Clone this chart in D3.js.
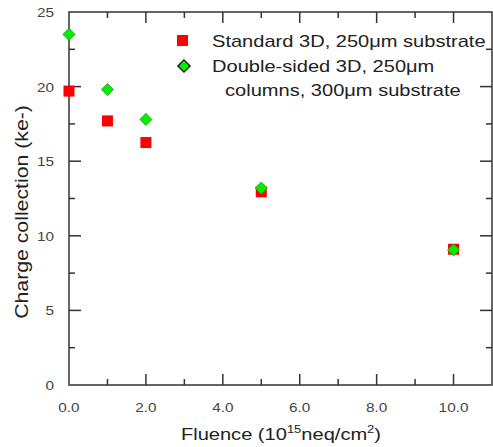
<!DOCTYPE html>
<html>
<head>
<meta charset="utf-8">
<script src="https://cdn.jsdelivr.net/npm/d3@7"></script>
<style>
body { margin: 0; background: #fff; }
text { font-family: "Liberation Sans", Arial, sans-serif; }
</style>
</head>
<body>
<script>
var fluence = [0, 1, 2, 5, 10];
var standard3D = [19.7, 17.7, 16.25, 12.95, 9.1];
var doubleSided = [23.5, 19.8, 17.8, 13.2, 9.05];
var xTicks = [0, 2, 4, 6, 8, 10];
var yTicks = [0, 5, 10, 15, 20, 25];

var W = 493, H = 447;
var pL = 69, pR = 492, pT = 12, pB = 385;
var stretch = 1.18; // the source text is a bit wider than Liberation Sans

var svg = d3.select("body")
    .append("svg")
    .attr("width", W)
    .attr("height", H)
    .style("display", "block");

var x = d3.scaleLinear().domain([0, 11]).range([pL, pR]);
var y = d3.scaleLinear().domain([0, 25]).range([pB, pT]);

var axisColor = "#333";

function widen(sel) {
    sel.each(function () {
        var w = this.getComputedTextLength();
        d3.select(this).attr("textLength", w * stretch)
            .attr("lengthAdjust", "spacingAndGlyphs");
    });
}

// frame
svg.append("rect")
    .attr("x", pL).attr("y", pT)
    .attr("width", pR - pL).attr("height", pB - pT)
    .attr("fill", "none")
    .attr("stroke", axisColor)
    .attr("stroke-width", 1.5);

// ticks (inward)
var xMinor = d3.range(1, 11, 2);
var yMinor = d3.range(2.5, 25, 5);

function tickLines(vals, len, horiz) {
    vals.forEach(function (v) {
        if (horiz) {
            svg.append("line").attr("x1", x(v)).attr("x2", x(v))
                .attr("y1", pB).attr("y2", pB - len)
                .attr("stroke", axisColor).attr("stroke-width", 1.5);
            svg.append("line").attr("x1", x(v)).attr("x2", x(v))
                .attr("y1", pT).attr("y2", pT + len)
                .attr("stroke", axisColor).attr("stroke-width", 1.5);
        } else {
            svg.append("line").attr("y1", y(v)).attr("y2", y(v))
                .attr("x1", pL).attr("x2", pL + len)
                .attr("stroke", axisColor).attr("stroke-width", 1.5);
            svg.append("line").attr("y1", y(v)).attr("y2", y(v))
                .attr("x1", pR).attr("x2", pR - len)
                .attr("stroke", axisColor).attr("stroke-width", 1.5);
        }
    });
}
tickLines(xTicks.filter(function (d) { return d > 0; }), 11, true);
tickLines(xMinor, 6, true);
tickLines(yTicks.filter(function (d) { return d > 0 && d < 25; }), 12, false);
tickLines(yMinor, 6, false);

// tick labels
svg.selectAll(".xl").data(xTicks).enter().append("text")
    .attr("x", function (d) { return x(d); })
    .attr("y", 412)
    .attr("text-anchor", "middle")
    .attr("font-size", "13px")
    .attr("fill", "#444")
    .text(function (d) { return d.toFixed(1); })
    .call(widen);

svg.selectAll(".yl").data(yTicks).enter().append("text")
    .attr("x", 54)
    .attr("y", function (d) { return y(d) + 5; })
    .attr("text-anchor", "end")
    .attr("font-size", "13px")
    .attr("fill", "#444")
    .text(function (d) { return d; })
    .call(widen);

// axis titles
svg.append("text")
    .attr("transform", "translate(28," + 212 + ") rotate(-90)")
    .attr("text-anchor", "middle")
    .attr("font-size", "18px")
    .attr("fill", "#222")
    .text("Charge collection (ke-)")
    .call(widen);

var xt = svg.append("text")
    .attr("x", 281)
    .attr("y", 440)
    .attr("text-anchor", "middle")
    .attr("font-size", "17px")
    .attr("fill", "#222");
xt.append("tspan").text("Fluence (10");
xt.append("tspan").attr("font-size", "11px").attr("dy", -7).text("15");
xt.append("tspan").attr("dy", 7).text("neq/cm");
xt.append("tspan").attr("font-size", "11px").attr("dy", -7).text("2");
xt.append("tspan").attr("dy", 7).text(")");
xt.call(widen);

// markers
var sq = 11;
svg.selectAll(".sq").data(fluence).enter().append("rect")
    .attr("x", function (d) { return x(d) - sq / 2; })
    .attr("y", function (d, i) { return y(standard3D[i]) - sq / 2; })
    .attr("width", sq).attr("height", sq)
    .attr("fill", "#f00");

var diamond = d3.symbol().type(d3.symbolDiamond2).size(95);
svg.selectAll(".dm").data(fluence).enter().append("path")
    .attr("d", diamond)
    .attr("transform", function (d, i) {
        return "translate(" + x(d) + "," + y(doubleSided[i]) + ")";
    })
    .attr("fill", "#00ee00")
    .attr("stroke", "#2a9a2a")
    .attr("stroke-width", 0.8);

// legend
svg.append("rect")
    .attr("x", 177).attr("y", 35)
    .attr("width", sq).attr("height", sq)
    .attr("fill", "#f00");
svg.append("path")
    .attr("d", diamond)
    .attr("transform", "translate(184,66)")
    .attr("fill", "#00ee00")
    .attr("stroke", "#111")
    .attr("stroke-width", 1.3);

var leg = [
    { t: "Standard 3D, 250\u03bcm substrate", x: 212, y: 47 },
    { t: "Double-sided 3D, 250\u03bcm", x: 212, y: 72 },
    { t: "columns, 300\u03bcm substrate", x: 225, y: 96 }
];
svg.selectAll(".lg").data(leg).enter().append("text")
    .attr("x", function (d) { return d.x; })
    .attr("y", function (d) { return d.y; })
    .attr("font-size", "17px")
    .attr("fill", "#222")
    .text(function (d) { return d.t; })
    .call(widen);
</script>
</body>
</html>
